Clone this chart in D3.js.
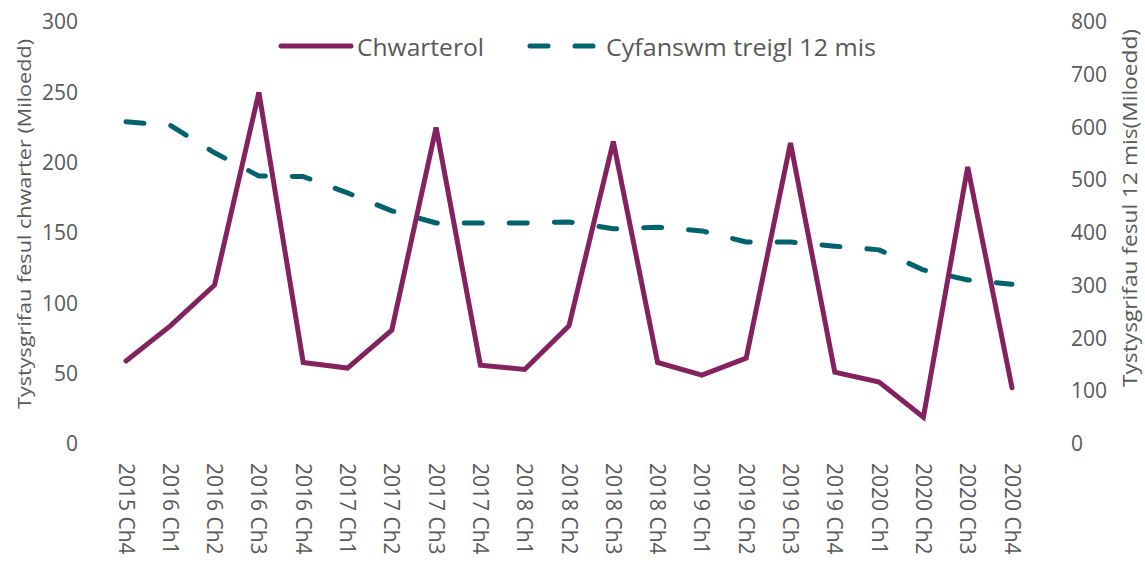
<!DOCTYPE html>
<html>
<head>
<meta charset="utf-8">
<script src="https://cdn.jsdelivr.net/npm/d3@7"></script>
<style>
  html, body { margin: 0; padding: 0; background: #fff; }
  svg { display: block; font-family: "Open Sans", "Noto Sans", sans-serif; }
</style>
</head>
<body>
<svg id="chart" width="1145" height="570"></svg>
<script>
const categories = ["2015 Ch4","2016 Ch1","2016 Ch2","2016 Ch3","2016 Ch4","2017 Ch1","2017 Ch2","2017 Ch3","2017 Ch4","2018 Ch1","2018 Ch2","2018 Ch3","2018 Ch4","2019 Ch1","2019 Ch2","2019 Ch3","2019 Ch4","2020 Ch1","2020 Ch2","2020 Ch3","2020 Ch4"];
const quarterly = [59, 84, 113, 250, 58, 54, 81, 225, 56, 53, 84, 215, 58, 49, 61, 214, 51, 44, 19, 197, 40];
const rolling12 = [611, 604, 552, 508, 507, 476, 442, 419, 419, 419, 421, 408, 411, 404, 383, 383, 375, 368, 330, 311, 303];
const leftTicks = [0, 50, 100, 150, 200, 250, 300];
const rightTicks = [0, 100, 200, 300, 400, 500, 600, 700, 800];
const seriesNames = ["Chwarterol", "Cyfanswm treigl 12 mis"];
const leftTitle = "Tystysgrifau fesul chwarter (Miloedd)";
const rightTitle = "Tystysgrifau fesul 12 mis(Miloedd)";

const purple = "#84215f";
const teal = "#02636f";
const textColor = "#595959";

const svg = d3.select("#chart");
const x = d3.scalePoint().domain(categories).range([126, 1012]);
const yL = d3.scaleLinear().domain([0, 300]).range([444, 22]);
const yR = d3.scaleLinear().domain([0, 800]).range([444, 22]);

// Left axis
const gL = svg.append("g").attr("transform", "translate(78,0)")
  .call(d3.axisLeft(yL).tickValues(leftTicks).tickSize(0).tickPadding(0));
gL.select(".domain").remove();
gL.selectAll("text").attr("fill", textColor).style("font-size", "21px")
  .style("font-family", "'Open Sans', sans-serif");

// Right axis
const gR = svg.append("g").attr("transform", "translate(1071,0)")
  .call(d3.axisRight(yR).tickValues(rightTicks).tickSize(0).tickPadding(0));
gR.select(".domain").remove();
gR.selectAll("text").attr("fill", textColor).style("font-size", "21px")
  .style("font-family", "'Open Sans', sans-serif");

// Bottom axis (rotated labels)
const gB = svg.append("g").attr("transform", "translate(0,463)")
  .call(d3.axisBottom(x).tickSize(0).tickPadding(0));
gB.select(".domain").remove();
gB.selectAll("text")
  .attr("fill", textColor).style("font-size", "21px")
  .style("font-family", "'Open Sans', sans-serif")
  .attr("y", 0).attr("dy", 0)
  .attr("transform", "rotate(90)")
  .attr("text-anchor", "start")
  .attr("dominant-baseline", "central")
  .attr("x", 0);

// Axis titles
svg.append("text")
  .attr("transform", "translate(24,224) rotate(-90)")
  .attr("text-anchor", "middle").attr("dominant-baseline", "central")
  .attr("fill", textColor).style("font-size", "19px")
  .attr("textLength", 370).attr("lengthAdjust", "spacingAndGlyphs")
  .text(leftTitle);
svg.append("text")
  .attr("transform", "translate(1129,208) rotate(-90)")
  .attr("text-anchor", "middle").attr("dominant-baseline", "central")
  .attr("fill", textColor).style("font-size", "20px")
  .attr("textLength", 358).attr("lengthAdjust", "spacingAndGlyphs")
  .text(rightTitle);

// Lines
const lineL = d3.line().x((d, i) => x(categories[i])).y(d => yL(d));
const lineR = d3.line().x((d, i) => x(categories[i])).y(d => yR(d));

svg.append("path").datum(rolling12)
  .attr("d", lineR).attr("fill", "none")
  .attr("stroke", teal).attr("stroke-width", 5)
  .attr("stroke-linecap", "round").attr("stroke-linejoin", "round")
  .attr("stroke-dasharray", "18,27");

svg.append("path").datum(quarterly)
  .attr("d", lineL).attr("fill", "none")
  .attr("stroke", purple).attr("stroke-width", 5)
  .attr("stroke-linecap", "round").attr("stroke-linejoin", "miter");

// Legend
const legend = svg.append("g");
legend.append("line").attr("x1", 281).attr("x2", 351).attr("y1", 46).attr("y2", 46)
  .attr("stroke", purple).attr("stroke-width", 5).attr("stroke-linecap", "round");
legend.append("text").attr("x", 357).attr("y", 46).attr("dominant-baseline", "central")
  .attr("fill", textColor).style("font-size", "24px")
  .attr("textLength", 127).attr("lengthAdjust", "spacingAndGlyphs")
  .text(seriesNames[0]);
legend.append("line").attr("x1", 530).attr("x2", 600).attr("y1", 46).attr("y2", 46)
  .attr("stroke", teal).attr("stroke-width", 5).attr("stroke-linecap", "round")
  .attr("stroke-dasharray", "18,27");
legend.append("text").attr("x", 606).attr("y", 46).attr("dominant-baseline", "central")
  .attr("fill", textColor).style("font-size", "24px")
  .attr("textLength", 270).attr("lengthAdjust", "spacingAndGlyphs")
  .text(seriesNames[1]);
</script>
</body>
</html>
